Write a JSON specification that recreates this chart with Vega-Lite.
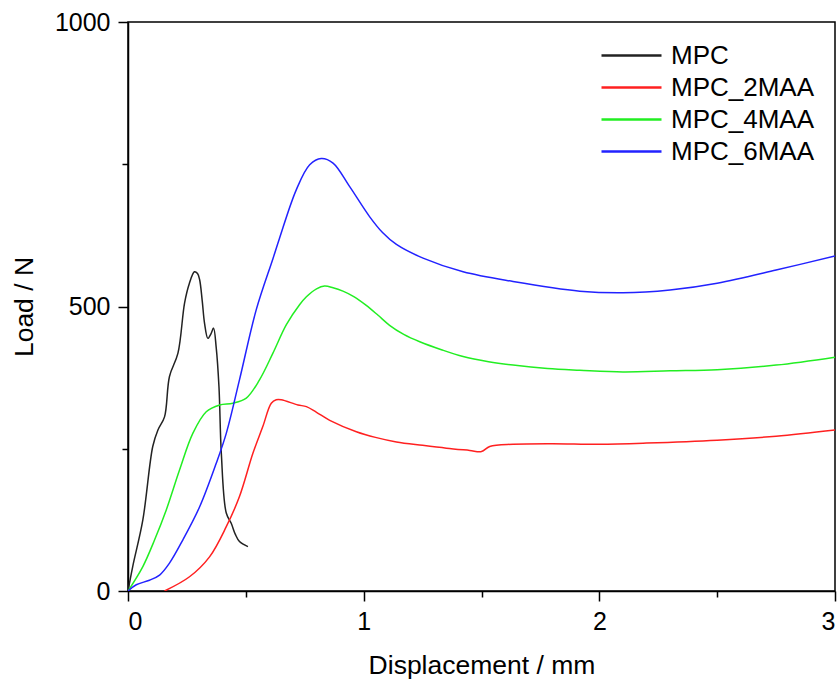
{
  "$schema": "https://vega.github.io/schema/vega-lite/v6.json",
  "width": 707,
  "height": 569,
  "autosize": "none",
  "padding": {"left": 128, "top": 22, "right": 5, "bottom": 91},
  "background": "white",
  "config": {
    "font": "Liberation Sans",
    "view": {"stroke": "black", "strokeWidth": 1.5},
    "axis": {
      "grid": false,
      "domainColor": "black",
      "domainWidth": 1.5,
      "tickColor": "black",
      "tickWidth": 1.5,
      "tickSize": 10,
      "labelFont": "Liberation Sans",
      "labelFontSize": 25,
      "labelColor": "black",
      "labelPadding": 8,
      "titleFont": "Liberation Sans",
      "titleFontSize": 26.5,
      "titleFontWeight": "normal",
      "titleColor": "black"
    },
    "legend": {
      "orient": "none",
      "legendX": 487,
      "legendY": 17,
      "labelFont": "Liberation Sans",
      "labelFontSize": 26,
      "labelColor": "black",
      "labelOffset": 23,
      "symbolType": "M-2,0H2",
      "symbolSize": 900,
      "symbolStrokeWidth": 2.5,
      "rowPadding": 2
    }
  },
  "data": {
    "values": [
      {"series": "MPC", "x": 0, "y": 0},
      {"series": "MPC", "x": 0.02, "y": 43},
      {"series": "MPC", "x": 0.063, "y": 125},
      {"series": "MPC", "x": 0.105, "y": 254},
      {"series": "MPC", "x": 0.127, "y": 283},
      {"series": "MPC", "x": 0.155, "y": 306},
      {"series": "MPC", "x": 0.176, "y": 377},
      {"series": "MPC", "x": 0.212, "y": 418},
      {"series": "MPC", "x": 0.24, "y": 506},
      {"series": "MPC", "x": 0.26, "y": 540},
      {"series": "MPC", "x": 0.282, "y": 561},
      {"series": "MPC", "x": 0.295, "y": 558},
      {"series": "MPC", "x": 0.304, "y": 547},
      {"series": "MPC", "x": 0.315, "y": 510},
      {"series": "MPC", "x": 0.325, "y": 470},
      {"series": "MPC", "x": 0.339, "y": 444},
      {"series": "MPC", "x": 0.352, "y": 452},
      {"series": "MPC", "x": 0.363, "y": 462},
      {"series": "MPC", "x": 0.374, "y": 429},
      {"series": "MPC", "x": 0.386, "y": 359},
      {"series": "MPC", "x": 0.396, "y": 242},
      {"series": "MPC", "x": 0.417, "y": 137},
      {"series": "MPC", "x": 0.438, "y": 119},
      {"series": "MPC", "x": 0.455, "y": 100},
      {"series": "MPC", "x": 0.473, "y": 87},
      {"series": "MPC", "x": 0.509, "y": 78},

      {"series": "MPC_2MAA", "x": 0.155, "y": 0},
      {"series": "MPC_2MAA", "x": 0.261, "y": 25},
      {"series": "MPC_2MAA", "x": 0.346, "y": 60},
      {"series": "MPC_2MAA", "x": 0.417, "y": 113},
      {"series": "MPC_2MAA", "x": 0.473, "y": 166},
      {"series": "MPC_2MAA", "x": 0.53, "y": 242},
      {"series": "MPC_2MAA", "x": 0.572, "y": 289},
      {"series": "MPC_2MAA", "x": 0.608, "y": 330},
      {"series": "MPC_2MAA", "x": 0.629, "y": 336},
      {"series": "MPC_2MAA", "x": 0.65, "y": 336},
      {"series": "MPC_2MAA", "x": 0.721, "y": 327},
      {"series": "MPC_2MAA", "x": 0.757, "y": 324},
      {"series": "MPC_2MAA", "x": 0.8, "y": 314},
      {"series": "MPC_2MAA", "x": 0.856, "y": 300},
      {"series": "MPC_2MAA", "x": 0.969, "y": 280},
      {"series": "MPC_2MAA", "x": 1.05, "y": 270},
      {"series": "MPC_2MAA", "x": 1.139, "y": 262},
      {"series": "MPC_2MAA", "x": 1.25, "y": 256},
      {"series": "MPC_2MAA", "x": 1.351, "y": 251},
      {"series": "MPC_2MAA", "x": 1.45, "y": 247},
      {"series": "MPC_2MAA", "x": 1.5, "y": 245},
      {"series": "MPC_2MAA", "x": 1.535, "y": 254},
      {"series": "MPC_2MAA", "x": 1.634, "y": 258},
      {"series": "MPC_2MAA", "x": 1.8, "y": 259},
      {"series": "MPC_2MAA", "x": 2.0, "y": 258},
      {"series": "MPC_2MAA", "x": 2.2, "y": 260},
      {"series": "MPC_2MAA", "x": 2.5, "y": 265},
      {"series": "MPC_2MAA", "x": 2.75, "y": 272},
      {"series": "MPC_2MAA", "x": 3.0, "y": 283},

      {"series": "MPC_4MAA", "x": 0, "y": 0},
      {"series": "MPC_4MAA", "x": 0.063, "y": 43},
      {"series": "MPC_4MAA", "x": 0.113, "y": 90},
      {"series": "MPC_4MAA", "x": 0.162, "y": 142},
      {"series": "MPC_4MAA", "x": 0.219, "y": 213},
      {"series": "MPC_4MAA", "x": 0.275, "y": 277},
      {"series": "MPC_4MAA", "x": 0.332, "y": 315},
      {"series": "MPC_4MAA", "x": 0.389, "y": 327},
      {"series": "MPC_4MAA", "x": 0.445, "y": 330},
      {"series": "MPC_4MAA", "x": 0.502, "y": 339},
      {"series": "MPC_4MAA", "x": 0.558, "y": 371},
      {"series": "MPC_4MAA", "x": 0.615, "y": 418},
      {"series": "MPC_4MAA", "x": 0.672, "y": 468},
      {"series": "MPC_4MAA", "x": 0.728, "y": 503},
      {"series": "MPC_4MAA", "x": 0.757, "y": 517},
      {"series": "MPC_4MAA", "x": 0.8, "y": 531},
      {"series": "MPC_4MAA", "x": 0.834, "y": 536},
      {"series": "MPC_4MAA", "x": 0.87, "y": 533},
      {"series": "MPC_4MAA", "x": 0.912, "y": 527},
      {"series": "MPC_4MAA", "x": 0.96, "y": 517},
      {"series": "MPC_4MAA", "x": 1.011, "y": 502},
      {"series": "MPC_4MAA", "x": 1.06, "y": 485},
      {"series": "MPC_4MAA", "x": 1.11, "y": 467},
      {"series": "MPC_4MAA", "x": 1.17, "y": 451},
      {"series": "MPC_4MAA", "x": 1.238, "y": 438},
      {"series": "MPC_4MAA", "x": 1.33, "y": 424},
      {"series": "MPC_4MAA", "x": 1.422, "y": 412},
      {"series": "MPC_4MAA", "x": 1.53, "y": 403},
      {"series": "MPC_4MAA", "x": 1.634, "y": 397},
      {"series": "MPC_4MAA", "x": 1.78, "y": 391},
      {"series": "MPC_4MAA", "x": 1.917, "y": 388},
      {"series": "MPC_4MAA", "x": 2.1, "y": 385},
      {"series": "MPC_4MAA", "x": 2.3, "y": 387},
      {"series": "MPC_4MAA", "x": 2.5, "y": 389},
      {"series": "MPC_4MAA", "x": 2.75, "y": 397},
      {"series": "MPC_4MAA", "x": 3.0, "y": 411},

      {"series": "MPC_6MAA", "x": 0, "y": 0},
      {"series": "MPC_6MAA", "x": 0.035, "y": 11},
      {"series": "MPC_6MAA", "x": 0.091, "y": 19},
      {"series": "MPC_6MAA", "x": 0.134, "y": 28},
      {"series": "MPC_6MAA", "x": 0.176, "y": 49},
      {"series": "MPC_6MAA", "x": 0.233, "y": 90},
      {"series": "MPC_6MAA", "x": 0.304, "y": 148},
      {"series": "MPC_6MAA", "x": 0.374, "y": 224},
      {"series": "MPC_6MAA", "x": 0.417, "y": 277},
      {"series": "MPC_6MAA", "x": 0.473, "y": 371},
      {"series": "MPC_6MAA", "x": 0.544, "y": 494},
      {"series": "MPC_6MAA", "x": 0.615, "y": 584},
      {"series": "MPC_6MAA", "x": 0.643, "y": 620},
      {"series": "MPC_6MAA", "x": 0.714, "y": 705},
      {"series": "MPC_6MAA", "x": 0.771, "y": 749},
      {"series": "MPC_6MAA", "x": 0.82, "y": 760},
      {"series": "MPC_6MAA", "x": 0.87, "y": 752},
      {"series": "MPC_6MAA", "x": 0.94, "y": 711},
      {"series": "MPC_6MAA", "x": 1.025, "y": 658},
      {"series": "MPC_6MAA", "x": 1.08, "y": 630},
      {"series": "MPC_6MAA", "x": 1.139, "y": 609},
      {"series": "MPC_6MAA", "x": 1.252, "y": 585},
      {"series": "MPC_6MAA", "x": 1.422, "y": 561},
      {"series": "MPC_6MAA", "x": 1.634, "y": 544},
      {"series": "MPC_6MAA", "x": 1.917, "y": 527},
      {"series": "MPC_6MAA", "x": 2.1, "y": 524},
      {"series": "MPC_6MAA", "x": 2.3, "y": 529},
      {"series": "MPC_6MAA", "x": 2.5, "y": 541},
      {"series": "MPC_6MAA", "x": 2.75, "y": 564},
      {"series": "MPC_6MAA", "x": 3.0, "y": 589}
    ]
  },
  "layer": [
    {
      "mark": {"type": "line", "strokeWidth": 1.5, "interpolate": "catmull-rom", "clip": true},
      "encoding": {
        "x": {
          "field": "x", "type": "quantitative",
          "scale": {"domain": [0, 3], "nice": false, "zero": false},
          "axis": {"orient": "bottom", "values": [0, 1, 2, 3], "title": "Displacement / mm", "titlePadding": 18, "format": "d"}
        },
        "y": {
          "field": "y", "type": "quantitative",
          "scale": {"domain": [0, 1000], "nice": false},
          "axis": {"orient": "left", "values": [0, 500, 1000], "title": "Load / N", "titlePadding": 16, "format": "d"}
        },
        "color": {
          "field": "series", "type": "nominal", "title": null,
          "scale": {"domain": ["MPC", "MPC_2MAA", "MPC_4MAA", "MPC_6MAA"], "range": ["#222222", "#ff2020", "#22ee22", "#2222ff"]}
        }
      }
    },
    {
      "mark": {"type": "point", "opacity": 0},
      "encoding": {
        "x": {
          "field": "x", "type": "quantitative",
          "scale": {"domain": [0, 3], "nice": false, "zero": false},
          "axis": {"orient": "bottom", "values": [0.5, 1.5, 2.5], "labels": false, "domain": false, "title": null, "tickSize": 6}
        },
        "y": {
          "field": "y", "type": "quantitative",
          "scale": {"domain": [0, 1000], "nice": false},
          "axis": {"orient": "left", "values": [250, 750], "labels": false, "domain": false, "title": null, "tickSize": 6}
        }
      }
    }
  ],
  "resolve": {"axis": {"x": "independent", "y": "independent"}}
}
